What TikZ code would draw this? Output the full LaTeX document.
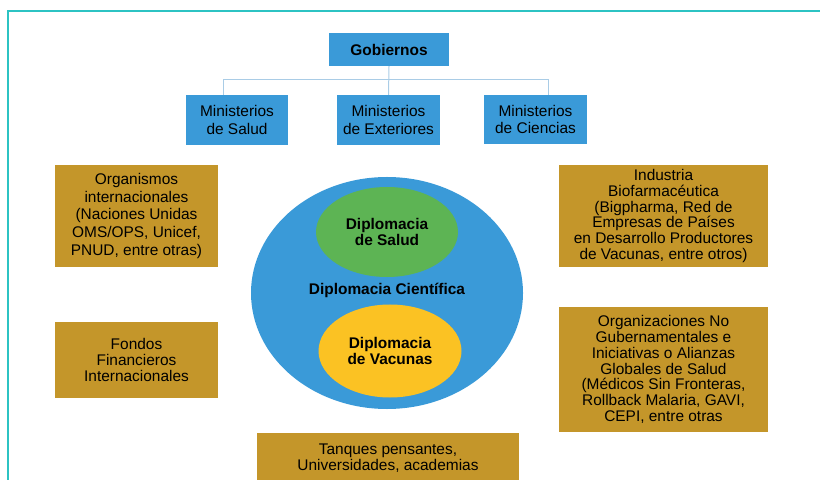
\documentclass[tikz,border=0pt]{standalone}
\usepackage{fontspec}
\setmainfont{Liberation Sans}
\usetikzlibrary{shapes.geometric}
\definecolor{marco}{HTML}{2CC3C3}
\definecolor{azul}{HTML}{3A9AD8}
\definecolor{celeste}{HTML}{A9CCE6}
\definecolor{ocre}{HTML}{C4962A}
\definecolor{verde}{HTML}{5DB454}
\definecolor{amarillo}{HTML}{FBC223}

\begin{document}
\begin{tikzpicture}[x=1bp,y=-1bp,
  caja/.style={fill=azul,inner sep=0pt,align=center,font=\fontsize{15.5}{17.5}\selectfont},
  actor/.style={fill=ocre,inner sep=0pt,align=center,font=\fontsize{15.5}{15.8}\selectfont},
  elipse/.style={ellipse,inner sep=0pt,align=center,font=\bfseries\fontsize{15.5}{16.7}\selectfont},
  enlace/.style={draw=celeste,line width=1bp}]

\useasboundingbox (0,0) rectangle (820,480);

% Frame
\draw[marco, line width=1.2bp] (8,500) -- (8,11) -- (840,11);

% Gobiernos and ministries
\node[caja, minimum width=120bp, minimum height=33bp, font=\bfseries\fontsize{15.5}{17.5}\selectfont] (gob) at (389,49.5) {Gobiernos};
\node[caja, minimum width=102bp, minimum height=50bp] (msal) at (237,120) {Ministerios\\de Salud};
\node[caja, minimum width=103bp, minimum height=50bp] (mext) at (388.5,120) {Ministerios\\de Exteriores};
\node[caja, minimum width=103bp, minimum height=49bp] (mcie) at (535.5,119.5) {Ministerios\\de Ciencias};

\draw[enlace] (gob.south) -- (mext.north);
\draw[enlace] ([xshift=-14bp]msal.north) -- ++(0,-15) -| ([xshift=13bp]mcie.north);

% Diplomacia ellipses
\node[elipse, fill=azul, minimum width=272bp, minimum height=232bp] (dcie) at (387,293) {};
\node[elipse, fill=verde, minimum width=142bp, minimum height=90bp] (dsal) at (387,232) {Diplomacia\\de Salud};
\node[elipse, fill=amarillo, minimum width=143bp, minimum height=93bp] (dvac) at (390,351) {Diplomacia\\de Vacunas};
\node[font=\bfseries\fontsize{15.5}{16.7}\selectfont, inner sep=0pt] (dtxt) at (387,290) {Diplomacia Científica};

% Actors
\node[actor, minimum width=163bp, minimum height=102bp, font=\fontsize{15.5}{17.7}\selectfont] (orgint) at (136.5,216)
  {Organismos\\internacionales\\(Naciones Unidas\\OMS/OPS, Unicef,\\PNUD, entre otras)};
\node[actor, minimum width=163bp, minimum height=76bp, font=\fontsize{15.5}{16.2}\selectfont] (fondos) at (136.5,360)
  {Fondos\\Financieros\\Internacionales};
\node[actor, minimum width=209bp, minimum height=102bp] (indus) at (663.5,216)
  {Industria\\Biofarmacéutica\\(Bigpharma, Red de\\Empresas de Países\\en Desarrollo Productores\\de Vacunas, entre otros)};
\node[actor, minimum width=209bp, minimum height=125bp] (ong) at (663.5,369.5)
  {Organizaciones No\\Gubernamentales e\\Iniciativas o Alianzas\\Globales de Salud\\(Médicos Sin Fronteras,\\Rollback Malaria, GAVI,\\CEPI, entre otras};
\node[actor, minimum width=262bp, minimum height=50bp, font=\fontsize{15.5}{13.5}\selectfont] (tanq) at (388,458)
  {Tanques pensantes,\\Universidades, academias};

\end{tikzpicture}
\end{document}
